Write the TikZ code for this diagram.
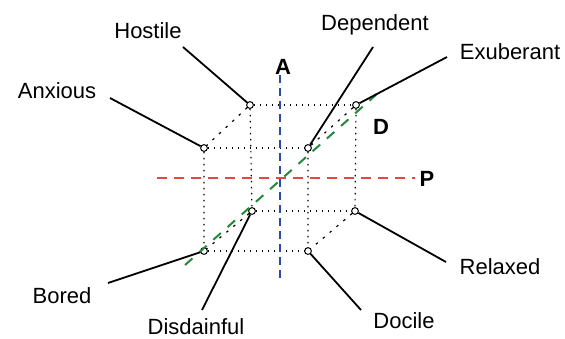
\documentclass[tikz,border=0pt]{standalone}
\usepackage{fontspec}
\setmainfont{Liberation Sans}
\usetikzlibrary{positioning}
\definecolor{axisred}{HTML}{E84646}
\definecolor{axisblue}{HTML}{2A4BA8}
\definecolor{axisgreen}{HTML}{25883A}

\begin{document}
\begin{tikzpicture}[
  x=0.5pt,y=-0.5pt,
  font=\fontsize{11}{13}\selectfont,
  vtx/.style={circle,draw=black,fill=white,inner sep=0pt,minimum size=3.4pt,line width=0.5pt},
  edge/.style={line width=0.6pt,dash pattern=on 0.7pt off 2.3pt},
  slant/.style={line width=0.6pt,dash pattern=on 1.2pt off 3.3pt},
  lead/.style={line width=0.9pt},
  mood/.style={inner sep=0pt},
  axislbl/.style={inner sep=0pt,font=\fontsize{11}{13}\selectfont\bfseries}]
\useasboundingbox (0,0) rectangle (565,338);

% cube corners
\node[vtx] (hv) at (250,105) {};
\node[vtx] (ev) at (356,105) {};
\node[vtx] (av) at (204,148) {};
\node[vtx] (pv) at (308,148) {};
\node[vtx] (sv) at (252,211) {};
\node[vtx] (rv) at (355,211) {};
\node[vtx] (bv) at (204,251) {};
\node[vtx] (dv) at (308,251) {};

% dotted edges
\draw[edge] (hv) -- (ev) (av) -- (pv) (sv) -- (rv) (bv) -- (dv);
\draw[edge] (hv) -- (sv) (ev) -- (rv) (av) -- (bv) (pv) -- (dv);
\draw[slant] (hv) -- (av) (ev) -- (pv) (sv) -- (bv) (rv) -- (dv);

% axes
\coordinate (atop) at (280,75);
\coordinate (abot) at (280,278);
\coordinate (pleft) at (157,178);
\coordinate (pright) at (415,178);
\coordinate (dlow) at (185,265);
\coordinate (dhigh) at (378,93);
\draw[axisblue,line width=0.9pt,dash pattern=on 4pt off 2.5pt] (atop) -- (abot);
\draw[axisred,line width=0.9pt,dash pattern=on 5pt off 3.5pt] (pleft) -- (pright);
\draw[axisgreen,line width=1pt,dash pattern=on 5pt off 4.5pt] (dlow) -- (dhigh);
\node[axislbl] (alab) at (283,67) {A};
\node[axislbl] (plab) at (427,179) {P};
\node[axislbl] (dlab) at (381,127) {D};

% moods
\node[mood] (hostile) at (148,31) {Hostile};
\node[mood] (dependent) at (375,25) {Dependent};
\node[mood] (exuberant) at (510,52) {Exuberant};
\node[mood] (anxious) at (57,91) {Anxious};
\node[mood] (bored) at (62,296) {Bored};
\node[mood] (disdainful) at (196,327) {Disdainful};
\node[mood] (docile) at (404,321) {Docile};
\node[mood] (relaxed) at (500,267) {Relaxed};

\coordinate (hostile-end) at (183,47);
\coordinate (dependent-end) at (373,47);
\coordinate (exuberant-end) at (447,57);
\coordinate (anxious-end) at (110,98);
\coordinate (bored-end) at (108,283);
\coordinate (disdainful-end) at (202,310);
\coordinate (docile-end) at (361,310);
\coordinate (relaxed-end) at (446,262);

\draw[lead] (hostile-end) -- (hv);
\draw[lead] (dependent-end) -- (pv);
\draw[lead] (exuberant-end) -- (ev);
\draw[lead] (anxious-end) -- (av);
\draw[lead] (bored-end) -- (bv);
\draw[lead] (disdainful-end) -- (sv);
\draw[lead] (docile-end) -- (dv);
\draw[lead] (relaxed-end) -- (rv);
\end{tikzpicture}
\end{document}
